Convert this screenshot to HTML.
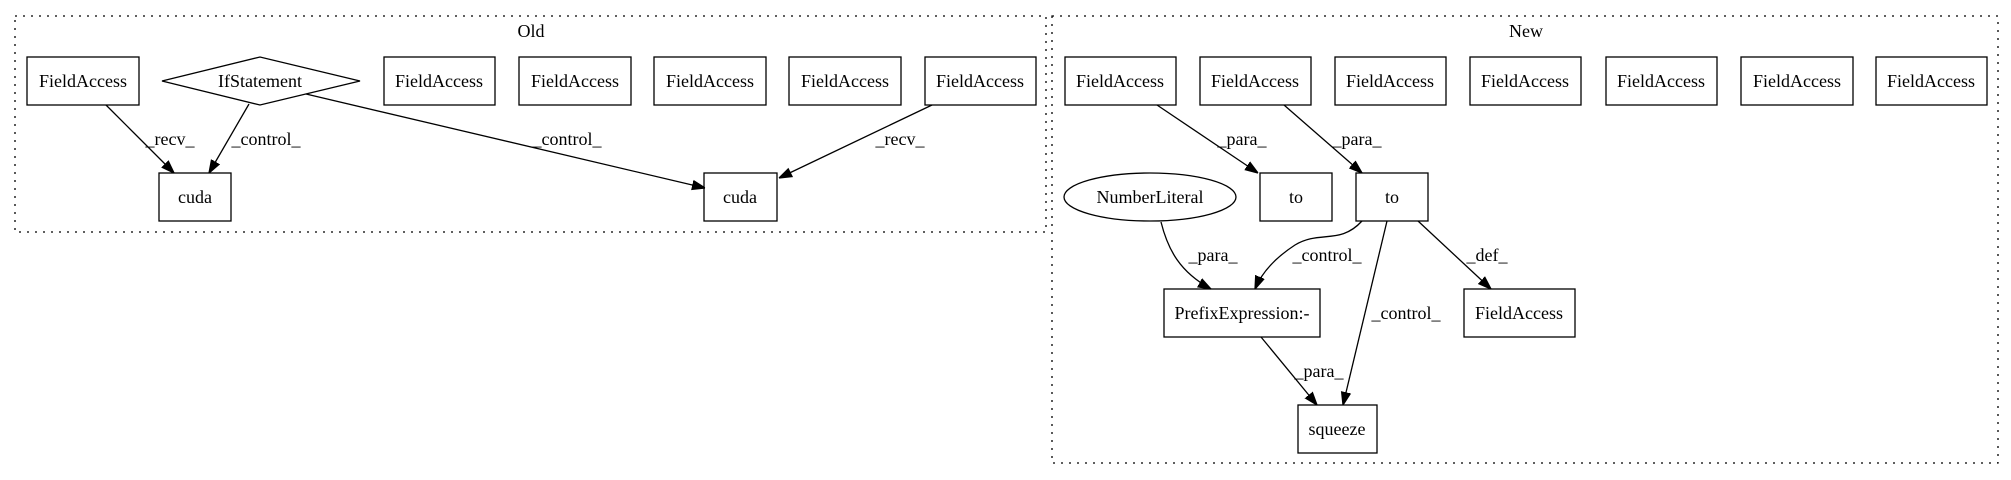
<!DOCTYPE html>
<html><head><meta charset="utf-8"><style>
html,body{margin:0;padding:0;background:#fff;}
svg{display:block;}
text{font-family:"Liberation Serif",serif;font-size:18px;fill:#000;}
</style></head><body>
<svg width="2011" height="480" viewBox="0 0 2011 480" xmlns="http://www.w3.org/2000/svg">
<defs>
<marker id="a" viewBox="0 0 10 10" refX="10" refY="5" markerWidth="13" markerHeight="13" markerUnits="userSpaceOnUse" orient="auto">
<path d="M0,1.5 L10,5 L0,8.5 Z" fill="#000" stroke="#000"/>
</marker>
</defs>
<g fill="none" stroke="#000" stroke-width="1.3">
<rect x="15" y="16" width="1031" height="216" stroke-dasharray="2,6"/>
<rect x="1052" y="16" width="946" height="447" stroke-dasharray="2,6"/>
<!-- Old nodes -->
<rect x="27" y="57" width="112" height="48"/>
<polygon points="162,81 260,57 360,81 260,105"/>
<rect x="384" y="57" width="111" height="48"/>
<rect x="519" y="57" width="112" height="48"/>
<rect x="654" y="57" width="112" height="48"/>
<rect x="789" y="57" width="112" height="48"/>
<rect x="925" y="57" width="111" height="48"/>
<rect x="159" y="173" width="72" height="48"/>
<rect x="704" y="173" width="73" height="48"/>
<!-- New nodes -->
<rect x="1065" y="57" width="111" height="48"/>
<rect x="1200" y="57" width="111" height="48"/>
<rect x="1335" y="57" width="111" height="48"/>
<rect x="1470" y="57" width="111" height="48"/>
<rect x="1606" y="57" width="111" height="48"/>
<rect x="1741" y="57" width="112" height="48"/>
<rect x="1876" y="57" width="111" height="48"/>
<rect x="1260" y="173" width="72" height="48"/>
<rect x="1356" y="173" width="72" height="48"/>
<ellipse cx="1150" cy="197" rx="86" ry="24"/>
<rect x="1164" y="289" width="156" height="48"/>
<rect x="1464" y="289" width="111" height="48"/>
<rect x="1298" y="405" width="79" height="48"/>
<!-- edges -->
<path d="M106,105 L174,173" marker-end="url(#a)"/>
<path d="M249,104 L209,173" marker-end="url(#a)"/>
<path d="M306,94 L705,188" marker-end="url(#a)"/>
<path d="M932,105 L779,178" marker-end="url(#a)"/>
<path d="M1157,105 L1258,173" marker-end="url(#a)"/>
<path d="M1284,105 L1362,173" marker-end="url(#a)"/>
<path d="M1161,222 C1168,250 1180,272 1211,289" marker-end="url(#a)"/>
<path d="M1362,221 C1340,245 1320,230 1295,245 C1275,258 1262,272 1255,289" marker-end="url(#a)"/>
<path d="M1387,221 L1343,405" marker-end="url(#a)"/>
<path d="M1418,221 L1491,289" marker-end="url(#a)"/>
<path d="M1261,337 L1317,405" marker-end="url(#a)"/>
</g>
<g text-anchor="middle">
<text x="531" y="37">Old</text>
<text x="1526" y="37">New</text>
<text x="83" y="87">FieldAccess</text>
<text x="260" y="87">IfStatement</text>
<text x="439" y="87">FieldAccess</text>
<text x="575" y="87">FieldAccess</text>
<text x="710" y="87">FieldAccess</text>
<text x="845" y="87">FieldAccess</text>
<text x="980" y="87">FieldAccess</text>
<text x="195" y="203">cuda</text>
<text x="740" y="203">cuda</text>
<text x="170" y="145">_recv_</text>
<text x="266" y="145">_control_</text>
<text x="567" y="145">_control_</text>
<text x="900" y="145">_recv_</text>
<text x="1120" y="87">FieldAccess</text>
<text x="1255" y="87">FieldAccess</text>
<text x="1390" y="87">FieldAccess</text>
<text x="1525" y="87">FieldAccess</text>
<text x="1661" y="87">FieldAccess</text>
<text x="1797" y="87">FieldAccess</text>
<text x="1931" y="87">FieldAccess</text>
<text x="1296" y="203">to</text>
<text x="1392" y="203">to</text>
<text x="1150" y="203">NumberLiteral</text>
<text x="1242" y="319">PrefixExpression:-</text>
<text x="1519" y="319">FieldAccess</text>
<text x="1337" y="435">squeeze</text>
<text x="1242" y="145">_para_</text>
<text x="1357" y="145">_para_</text>
<text x="1213" y="261">_para_</text>
<text x="1327" y="261">_control_</text>
<text x="1487" y="261">_def_</text>
<text x="1406" y="319">_control_</text>
<text x="1319" y="377">_para_</text>
</g>
</svg>
</body></html>
